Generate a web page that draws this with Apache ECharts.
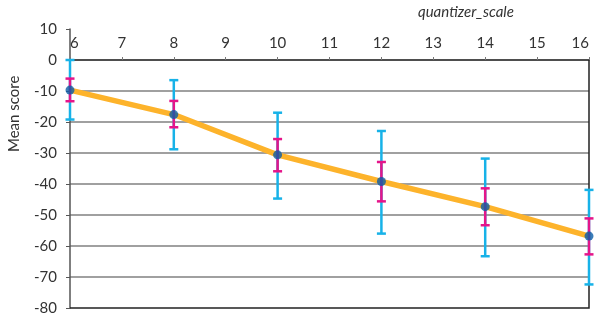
<!DOCTYPE html>
<html>
<head>
<meta charset="utf-8">
<script src="https://cdn.jsdelivr.net/npm/echarts@6/dist/echarts.min.js"></script>
<style>html,body{margin:0;padding:0;background:#fff;}#c{width:602px;height:320px;}</style>
</head>
<body>
<div id="c"></div>
<script>
const quantizerScale = [6, 8, 10, 12, 14, 16];
const meanScore = [-9.7, -17.6, -30.6, -39.2, -47.3, -56.8];
const outerHigh = [0, -6.5, -17.0, -22.9, -31.8, -41.9];
const outerLow = [-19.2, -28.8, -44.7, -56.0, -63.3, -72.4];
const innerHigh = [-6.0, -13.2, -25.5, -32.9, -41.4, -51.1];
const innerLow = [-13.3, -21.7, -35.9, -45.6, -53.3, -62.7];
const xTitle = 'quantizer_scale';
const yTitle = 'Mean score';

const font = 'Lato';
const chart = echarts.init(document.getElementById('c'), null, {renderer: 'canvas'});

function errorBar(color) {
  return function (params, api) {
    const x = api.value(0);
    const top = api.coord([x, api.value(2)]);
    const bot = api.coord([x, api.value(1)]);
    const hw = 4.5;
    const st = {stroke: color, lineWidth: 2.5};
    return {type: 'group', children: [
      {type: 'line', shape: {x1: top[0], y1: top[1], x2: bot[0], y2: bot[1]}, style: st},
      {type: 'line', shape: {x1: top[0]-hw, y1: top[1], x2: top[0]+hw, y2: top[1]}, style: st},
      {type: 'line', shape: {x1: bot[0]-hw, y1: bot[1], x2: bot[0]+hw, y2: bot[1]}, style: st}
    ]};
  };
}

chart.setOption({
  animation: false,
  grid: {left: 70, right: 13, top: 29, bottom: 12},
  graphic: [
    {type: 'text', left: 418, top: 5, style: {text: xTitle, fontSize: 15, fontStyle: 'italic', fontFamily: font, fill: '#333'}},
    {type: 'text', x: 7, y: 152, rotation: Math.PI/2, style: {text: yTitle, fontSize: 15, fontFamily: font, fill: '#333'}}
  ],
  xAxis: {
    type: 'value', min: 6, max: 16, interval: 1,
    position: 'top', offset: -31,
    axisLine: {onZero: false, lineStyle: {color: '#333', width: 1.5}},
    axisTick: {length: 3, lineStyle: {color: '#777'}},
    axisLabel: {margin: 9, color: '#333', fontSize: 15, fontFamily: font,
      alignMinLabel: 'left', alignMaxLabel: 'right'},
    splitLine: {show: false}
  },
  yAxis: {
    type: 'value', min: -80, max: 10, interval: 10,
    axisLine: {show: true, lineStyle: {color: '#555', width: 1.5}},
    axisTick: {show: true, length: 4, lineStyle: {color: '#555'}},
    axisLabel: {margin: 13, color: '#333', fontSize: 15, fontFamily: font},
    splitLine: {show: true, showMaxLine: false, showMinLine: false, lineStyle: {color: '#808080', width: 1.5}}
  },
  series: [
    {
      type: 'custom', clip: false, z: 1, silent: true,
      renderItem: function (params, api) {
        const a = api.coord([16, 0]);
        const b = api.coord([16, -80]);
        const c = api.coord([6, -80]);
        return {type: 'polyline', shape: {points: [a, b, c]}, style: {stroke: '#222', lineWidth: 1.5, fill: null}};
      },
      data: [[16, 0]]
    },
    {
      type: 'line',
      data: quantizerScale.map((x, i) => [x, meanScore[i]]),
      showSymbol: false,
      lineStyle: {color: '#FDB32B', width: 5.5},
      z: 2
    },
    {
      type: 'custom', clip: false, z: 3,
      renderItem: errorBar('#17B2E8'),
      data: quantizerScale.map((x, i) => [x, outerLow[i], outerHigh[i]])
    },
    {
      type: 'custom', clip: false, z: 4,
      renderItem: errorBar('#E5158A'),
      data: quantizerScale.map((x, i) => [x, innerLow[i], innerHigh[i]])
    },
    {
      type: 'scatter', z: 5,
      symbol: 'circle', symbolSize: 9,
      itemStyle: {color: '#0B5CA6'},
      data: quantizerScale.map((x, i) => [x, meanScore[i]])
    }
  ]
});
</script>
</body>
</html>
